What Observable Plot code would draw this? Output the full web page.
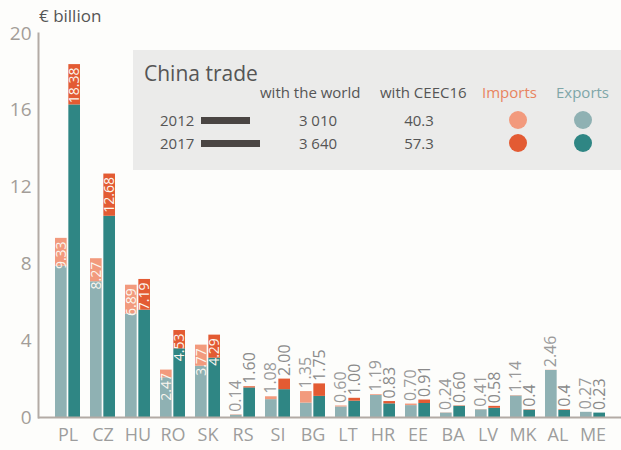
<!DOCTYPE html>
<html>
<head>
<meta charset="utf-8">
<script src="https://cdn.jsdelivr.net/npm/d3@7"></script>
<script src="https://cdn.jsdelivr.net/npm/@observablehq/plot@0.6"></script>
<style>
  html, body { margin: 0; padding: 0; background: #fdfdfb; }
  #wrap { position: relative; width: 621px; height: 450px; font-family: "Open Sans", sans-serif; overflow: hidden; }
  #wrap svg { position: absolute; left: 0; top: 0; }
  .t { position: absolute; white-space: nowrap; transform: translateY(-50%); line-height: 1; }
  .c { transform: translate(-50%, -50%); }
</style>
</head>
<body>
<div id="wrap"></div>
<script>
// ---- data ----
const countries = ["PL","CZ","HU","RO","SK","RS","SI","BG","LT","HR","EE","BA","LV","MK","AL","ME"];
const exports2012 = [7.88,7.07,5.39,2.07,2.67,0.12,0.93,0.75,0.55,1.15,0.62,0.23,0.40,1.12,2.45,0.27];
const imports2012 = [1.45,1.20,1.50,0.40,1.10,0.02,0.15,0.60,0.05,0.04,0.08,0.01,0.01,0.02,0.01,0.00];
const exports2017 = [16.28,10.48,5.59,3.58,3.09,1.54,1.45,1.10,0.85,0.71,0.73,0.58,0.48,0.38,0.37,0.23];
const imports2017 = [2.10,2.20,1.60,0.95,1.20,0.06,0.55,0.65,0.15,0.12,0.18,0.02,0.10,0.02,0.03,0.00];
const labels2012 = ["9.33","8.27","6.89","2.47","3.77","0.14","1.08","1.35","0.60","1.19","0.70","0.24","0.41","1.14","2.46","0.27"];
const labels2017 = ["18.38","12.68","7.19","4.53","4.29","1.60","2.00","1.75","1.00","0.83","0.91","0.60","0.58","0.4","0.4","0.23"];
const insideCount = 5; // first countries labelled inside their bars
const yTicks = [0, 4, 8, 12, 16, 20];

const legendYears = ["2012", "2017"];
const worldTrade = [3010, 3640];
const worldTradeLabels = ["3 010", "3 640"];
const ceecTradeLabels = ["40.3", "57.3"];

// ---- layout / style ----
const W = 621, H = 450;
const mL = 38, mR = 0, mT = 33, mB = 33;
const padIn = 0.29, padOut = 0.333, gap = 1.4;
const step = (W - mL - mR) / (countries.length - padIn + 2 * padOut);
const bw = step * (1 - padIn);
const half = bw / 2 + gap / 2;       // inset so each year gets half the band
const shift = (bw / 2 - gap / 2) / 2 + gap / 2; // offset of half-band centre

const colors = {
  exp2012: "#8fb1b3", imp2012: "#f29a7d",
  exp2017: "#2f8684", imp2017: "#e35b33"
};

function rows(exp, imp, year) {
  const out = [];
  countries.forEach((c, i) => {
    out.push({country: c, key: "exp" + year, value: exp[i]});
    out.push({country: c, key: "imp" + year, value: imp[i]});
  });
  return out;
}
function labelRows(labels, year) {
  return countries.map((c, i) => ({country: c, label: labels[i], total: +labels[i], inside: i < insideCount, year}));
}
const r2012 = rows(exports2012, imports2012, "2012");
const r2017 = rows(exports2017, imports2017, "2017");
const l2012 = labelRows(labels2012, "2012");
const l2017 = labelRows(labels2017, "2017");

const axisCol = "#b3aba5";

const chart = Plot.plot({
  width: W, height: H,
  marginLeft: mL, marginRight: mR, marginTop: mT, marginBottom: mB,
  style: {fontFamily: "Open Sans, sans-serif", background: "transparent", overflow: "visible"},
  x: {domain: countries, paddingInner: padIn, paddingOuter: padOut, label: null},
  y: {domain: [0, 20], label: null},
  color: {domain: Object.keys(colors), range: Object.values(colors)},
  marks: [
    Plot.barY(r2012, Plot.stackY({x: "country", y: "value", fill: "key", insetRight: half})),
    Plot.barY(r2017, Plot.stackY({x: "country", y: "value", fill: "key", insetLeft: half})),
    Plot.ruleY([0], {stroke: axisCol, strokeWidth: 2}),
    Plot.frame({anchor: "left", stroke: axisCol, strokeWidth: 2}),
    Plot.axisY({ticks: yTicks, tickSize: 0, tickPadding: 7, fontSize: 19, fill: "#a39d98", label: null}),
    Plot.axisX({tickSize: 0, tickPadding: 11, fontSize: 18, fill: "#9d9d9d", label: null}),
    // labels inside big bars
    Plot.text(l2012.filter(d => d.inside), {x: "country", y: "total", text: "label", rotate: -90, textAnchor: "end", dx: -shift, dy: 3, fill: "#fbf6ef", fontSize: 14}),
    Plot.text(l2017.filter(d => d.inside), {x: "country", y: "total", text: "label", rotate: -90, textAnchor: "end", dx: shift, dy: 3, fill: "#fbf6ef", fontSize: 14}),
    // labels above small bars
    Plot.text(l2012.filter(d => !d.inside), {x: "country", y: "total", text: "label", rotate: -90, textAnchor: "start", dx: -shift, dy: -3, fill: "#9a9a9a", fontSize: 16}),
    Plot.text(l2017.filter(d => !d.inside), {x: "country", y: "total", text: "label", rotate: -90, textAnchor: "start", dx: shift, dy: -3, fill: "#8a8a8a", fontSize: 16})
  ]
});

const wrap = document.getElementById("wrap");
wrap.appendChild(chart);

// ---- overlay texts / legend ----
function addText(txt, x, y, size, color, center) {
  const d = document.createElement("div");
  d.className = "t" + (center ? " c" : "");
  d.textContent = txt;
  d.style.left = x + "px"; d.style.top = y + "px";
  d.style.fontSize = size + "px"; d.style.color = color;
  wrap.appendChild(d);
  return d;
}
function addBox(x, y, w, h, bg, radius) {
  const d = document.createElement("div");
  d.style.position = "absolute";
  d.style.left = x + "px"; d.style.top = y + "px";
  d.style.width = w + "px"; d.style.height = h + "px";
  d.style.background = bg;
  if (radius) d.style.borderRadius = radius;
  wrap.appendChild(d);
  return d;
}

addText("€ billion", 39, 15, 17, "#555");

addBox(133, 50, 488, 120, "#ebebea");
addText("China trade", 144, 73, 21, "#555");
addText("with the world", 260, 92, 15, "#555");
addText("with CEEC16", 380, 92, 15, "#555");
addText("Imports", 482, 92, 15, "#e8845f");
addText("Exports", 556, 92, 15, "#7fa6a8");

const rowY = [120, 143];
const maxWorld = Math.max(...worldTrade);
legendYears.forEach((yr, i) => {
  addText(yr, 160, rowY[i], 15, "#555");
  addBox(201, rowY[i] - 3.5, worldTrade[i] / maxWorld * 59, 7, "#4a4543");
  addText(worldTradeLabels[i], 318, rowY[i], 15, "#555", true);
  addText(ceecTradeLabels[i], 419, rowY[i], 15, "#555", true);
  addBox(509, rowY[i] - 9, 18, 18, colors["imp" + yr], "50%");
  addBox(574, rowY[i] - 9, 18, 18, colors["exp" + yr], "50%");
});
</script>
</body>
</html>
